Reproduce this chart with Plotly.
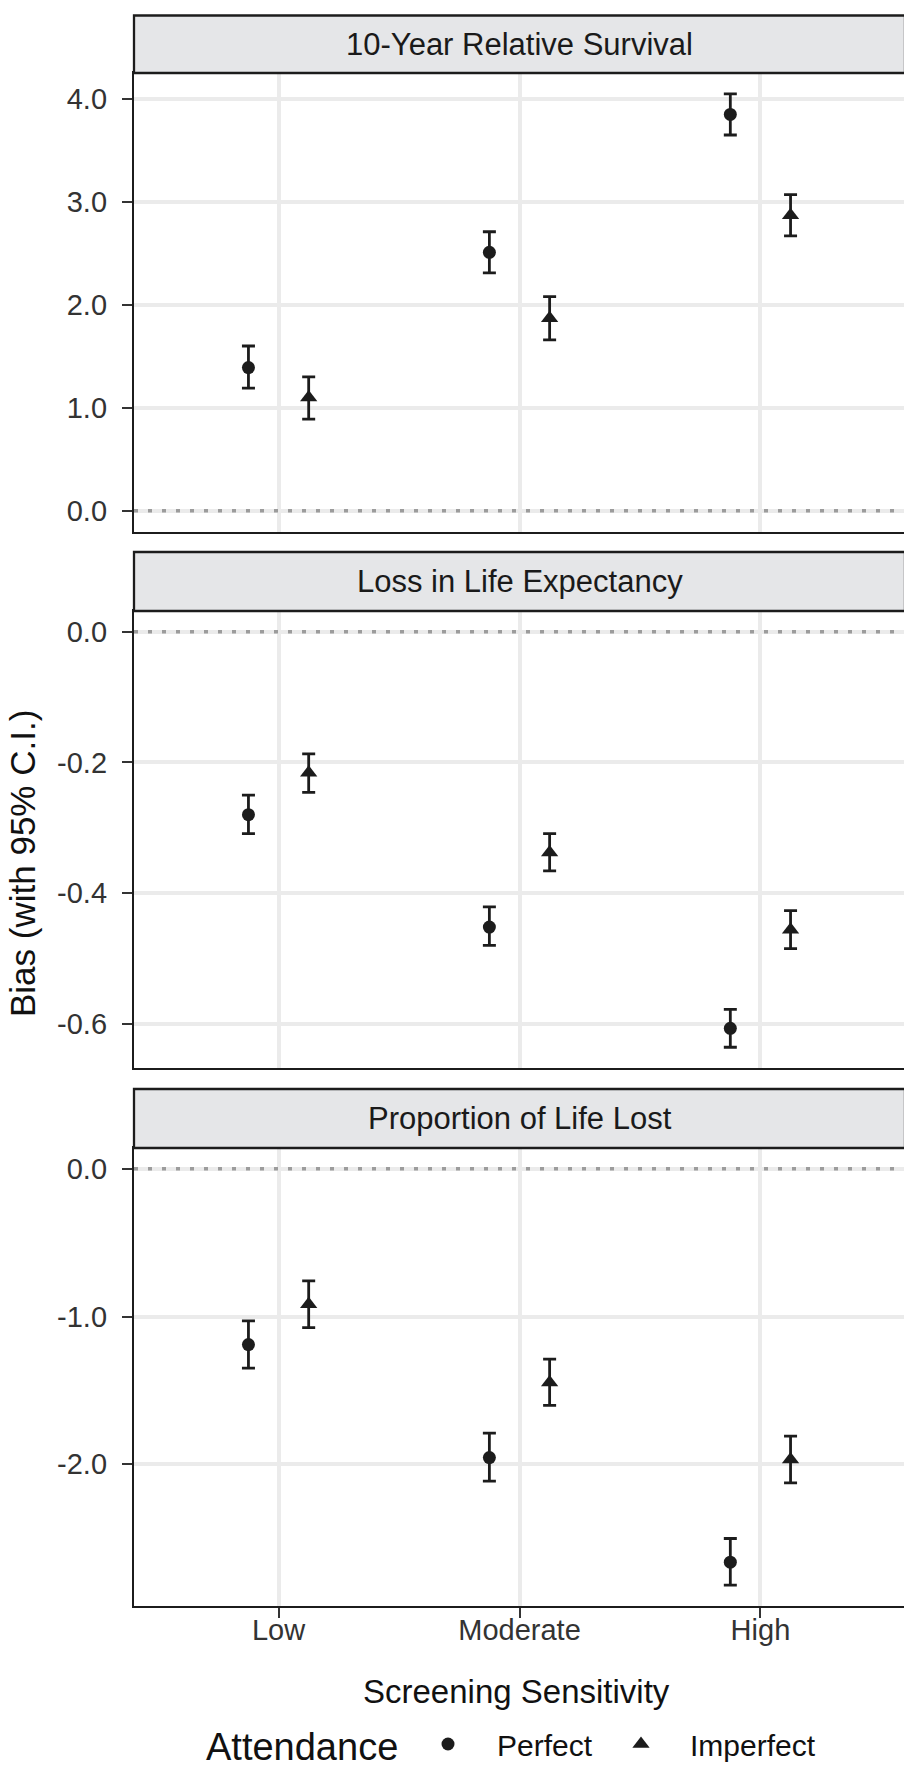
import plotly.graph_objects as go

categories = ["Low", "Moderate", "High"]
groups = ["Perfect", "Imperfect"]
panels = ["10-Year Relative Survival", "Loss in Life Expectancy", "Proportion of Life Lost"]

# bias and 95% C.I. bounds, ordered Low / Moderate / High
rs_perfect = [1.39, 2.51, 3.85]
rs_perfect_lo = [1.19, 2.31, 3.65]
rs_perfect_hi = [1.60, 2.71, 4.05]
rs_imperfect = [1.10, 1.87, 2.87]
rs_imperfect_lo = [0.89, 1.66, 2.67]
rs_imperfect_hi = [1.30, 2.08, 3.07]

le_perfect = [-0.280, -0.452, -0.607]
le_perfect_lo = [-0.309, -0.480, -0.636]
le_perfect_hi = [-0.250, -0.421, -0.578]
le_imperfect = [-0.216, -0.338, -0.456]
le_imperfect_lo = [-0.246, -0.366, -0.485]
le_imperfect_hi = [-0.187, -0.309, -0.427]

pll_perfect = [-1.19, -1.955, -2.663]
pll_perfect_lo = [-1.349, -2.114, -2.819]
pll_perfect_hi = [-1.030, -1.789, -2.503]
pll_imperfect = [-0.917, -1.446, -1.968]
pll_imperfect_lo = [-1.075, -1.602, -2.127]
pll_imperfect_hi = [-0.759, -1.289, -1.810]

y_tickvals = [[0, 1, 2, 3, 4], [0, -0.2, -0.4, -0.6], [0, -1, -2]]
y_ticktext = [["0.0", "1.0", "2.0", "3.0", "4.0"],
              ["0.0", "-0.2", "-0.4", "-0.6"],
              ["0.0", "-1.0", "-2.0"]]

panel_data = [
    [(rs_perfect, rs_perfect_lo, rs_perfect_hi), (rs_imperfect, rs_imperfect_lo, rs_imperfect_hi)],
    [(le_perfect, le_perfect_lo, le_perfect_hi), (le_imperfect, le_imperfect_lo, le_imperfect_hi)],
    [(pll_perfect, pll_perfect_lo, pll_perfect_hi), (pll_imperfect, pll_imperfect_lo, pll_imperfect_hi)],
]

# %% layout in pixels
W, H = 912, 1768
LEFT, RIGHT, TOP, BOTTOM = 126, 897, 7, 1598
# (strip top, plot top, plot bottom) for each facet
boxes = [(7.5, 65, 523.5), (544, 603, 1060), (1081, 1140, 1598)]

INK = "#1c1c1c"
FONT = "Liberation Sans, Arial, sans-serif"
symbols = {"Perfect": "circle", "Imperfect": "triangle-up"}
sizes = {"Perfect": 13, "Imperfect": 15}
dodge = {"Perfect": -0.125, "Imperfect": 0.125}
legend_ref = {"Perfect": "legend", "Imperfect": "legend2"}


def py(p):
    return (BOTTOM - p) / (BOTTOM - TOP)


def px_(p):
    return (p - LEFT) / (RIGHT - LEFT)


fig = go.Figure()
layout = {}
for i, (title, data) in enumerate(zip(panels, panel_data)):
    n = i + 1
    sfx = "" if n == 1 else str(n)
    for g, (val, lo, hi) in zip(groups, data):
        fig.add_trace(go.Scatter(
            x=[k + 1 + dodge[g] for k in range(len(categories))],
            y=val,
            mode="markers",
            name=g,
            legendgroup=g,
            legend=legend_ref[g],
            showlegend=(i == 0),
            marker=dict(symbol=symbols[g], size=sizes[g], color=INK, line_width=0),
            error_y=dict(type="data", symmetric=False,
                         array=[h - v for h, v in zip(hi, val)],
                         arrayminus=[v - l for v, l in zip(val, lo)],
                         thickness=2.8, width=6.5, color=INK),
            xaxis="x" + sfx, yaxis="y" + sfx,
        ))

    all_vals = [v for s in data for arr in s for v in arr] + [0]
    lo_v, hi_v = min(all_vals), max(all_vals)
    pad = 0.05 * (hi_v - lo_v)
    strip_top, plot_top, plot_bot = boxes[i]
    last = n == len(panels)

    layout["xaxis" + sfx] = dict(
        domain=[0, 1], range=[0.4, 3.6], anchor="y" + sfx,
        tickvals=[1, 2, 3], ticktext=categories,
        showticklabels=last, ticks="outside" if last else "",
        ticklen=10, tickwidth=2.3, tickcolor="#333", ticklabelstandoff=-13,
        tickfont=dict(size=29, color="#333", family=FONT),
        showgrid=True, gridcolor="#EBEBEB", gridwidth=3.5, zeroline=False,
        showline=True, mirror=True, linecolor=INK, linewidth=2.3,
    )
    layout["yaxis" + sfx] = dict(
        domain=[py(plot_bot), py(plot_top)], range=[lo_v - pad, hi_v + pad],
        anchor="x" + sfx, tickvals=y_tickvals[i], ticktext=y_ticktext[i],
        ticks="outside", ticklen=10, tickwidth=2.3, tickcolor="#333",
        ticklabelstandoff=9,
        tickfont=dict(size=29, color="#333", family=FONT),
        showgrid=True, gridcolor="#EBEBEB", gridwidth=3.5, zeroline=False,
        showline=True, mirror=True, linecolor=INK, linewidth=2.3,
    )

    # dotted reference line at zero
    fig.add_shape(type="line", xref="x%s domain" % sfx, yref="y" + sfx,
                  x0=0, x1=1, y0=0, y1=0,
                  line=dict(color="#9c9c9c", width=3.5, dash="4px,10px"))
    # facet strip
    fig.add_shape(type="rect", xref="paper", yref="paper",
                  x0=0, x1=1, y0=py(plot_top), y1=py(strip_top),
                  fillcolor="#E5E6E8", line=dict(color=INK, width=2.3))
    fig.add_annotation(text=title, xref="paper", yref="paper",
                       x=0.5, y=(py(plot_top) + py(strip_top)) / 2,
                       xanchor="center", yanchor="middle", showarrow=False,
                       font=dict(size=31, color="#1a1a1a", family=FONT))

fig.add_annotation(text="Bias (with 95% C.I.)", xref="paper", yref="paper",
                   x=px_(15), y=py(856), textangle=-90,
                   xanchor="center", yanchor="middle", showarrow=False,
                   font=dict(size=35, color="#111", family=FONT))
fig.add_annotation(text="Screening Sensitivity", xref="paper", yref="paper",
                   x=px_(508), y=py(1684),
                   xanchor="center", yanchor="middle", showarrow=False,
                   font=dict(size=33, color="#111", family=FONT))
# legend title
fig.add_annotation(text="Attendance", xref="paper", yref="paper",
                   x=px_(196), y=py(1739),
                   xanchor="left", yanchor="middle", showarrow=False,
                   font=dict(size=38, color="#111", family=FONT))

legend_style = dict(orientation="h", xanchor="left", y=py(1736), yanchor="middle",
                    itemwidth=88, font=dict(size=30, color="#111", family=FONT),
                    bgcolor="rgba(0,0,0,0)", borderwidth=0)

fig.update_layout(
    **layout,
    width=W, height=H,
    margin=dict(l=LEFT, r=W - RIGHT, t=TOP, b=H - BOTTOM, autoexpand=False),
    paper_bgcolor="white", plot_bgcolor="white",
    font=dict(family=FONT, color="#111"),
    legend=dict(x=px_(391), **legend_style),
    legend2=dict(x=px_(584), **legend_style),
)
fig.write_html("out.html")
